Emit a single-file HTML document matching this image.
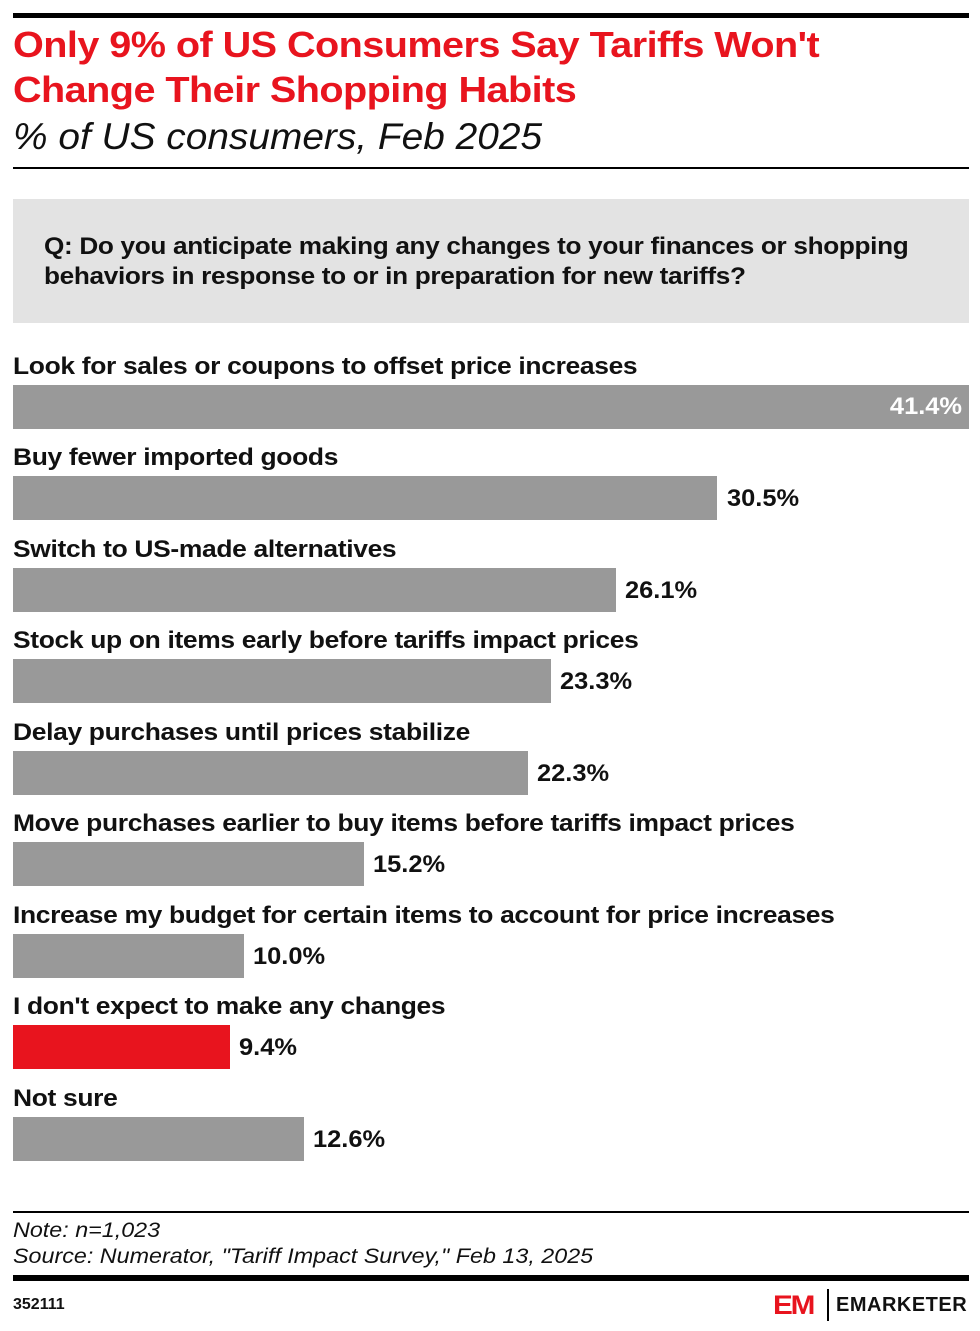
<!DOCTYPE html>
<html><head><style>
body{margin:0;width:980px;height:1331px;background:#fff;font-family:"Liberation Sans",sans-serif;position:relative;overflow:hidden;color:#111}
.a{position:absolute;white-space:nowrap;transform-origin:left top}
.t{left:13px;color:#e8141e;font-weight:bold;font-size:36px;letter-spacing:-0.5px;transform:scaleX(1.1)}
.lab{left:13px;font-size:24px;font-weight:bold;letter-spacing:-0.3px;transform:scaleX(1.1)}
.bar{position:absolute;left:13px;height:44px;background:#999}
.val{font-size:24px;font-weight:bold;transform:scaleX(1.06)}
</style></head><body>
<div class="a" style="left:13px;top:13px;width:956px;height:5px;background:#000"></div>
<div class="a t" style="top:24px">Only 9% of US Consumers Say Tariffs Won't</div>
<div class="a t" style="top:69px">Change Their Shopping Habits</div>
<div class="a" style="left:13px;top:116px;font-size:37px;font-style:italic;transform:scaleX(1.05)">% of US consumers, Feb 2025</div>
<div class="a" style="left:13px;top:167px;width:956px;height:2px;background:#000"></div>
<div class="a" style="left:13px;top:199px;width:956px;height:124px;background:#e3e3e3"></div>
<div class="a" style="left:44px;top:232px;font-size:24px;font-weight:bold;line-height:30px;letter-spacing:-0.3px;transform:scaleX(1.09)">Q: Do you anticipate making any changes to your finances or shopping<br>behaviors in response to or in preparation for new tariffs?</div>

<div class="a lab" style="top:353px">Look for sales or coupons to offset price increases</div>
<div class="bar" style="top:385px;width:956px"></div>
<div class="a val" style="top:393px;right:18px;color:#fff;transform-origin:right top">41.4%</div>

<div class="a lab" style="top:444px">Buy fewer imported goods</div>
<div class="bar" style="top:476px;width:704px"></div>
<div class="a val" style="top:485px;left:727px">30.5%</div>

<div class="a lab" style="top:536px">Switch to US-made alternatives</div>
<div class="bar" style="top:568px;width:603px"></div>
<div class="a val" style="top:577px;left:625px">26.1%</div>

<div class="a lab" style="top:627px">Stock up on items early before tariffs impact prices</div>
<div class="bar" style="top:659px;width:538px"></div>
<div class="a val" style="top:668px;left:560px">23.3%</div>

<div class="a lab" style="top:719px">Delay purchases until prices stabilize</div>
<div class="bar" style="top:751px;width:515px"></div>
<div class="a val" style="top:760px;left:537px">22.3%</div>

<div class="a lab" style="top:810px">Move purchases earlier to buy items before tariffs impact prices</div>
<div class="bar" style="top:842px;width:351px"></div>
<div class="a val" style="top:851px;left:373px">15.2%</div>

<div class="a lab" style="top:902px">Increase my budget for certain items to account for price increases</div>
<div class="bar" style="top:934px;width:231px"></div>
<div class="a val" style="top:943px;left:253px">10.0%</div>

<div class="a lab" style="top:993px">I don't expect to make any changes</div>
<div class="bar" style="top:1025px;width:217px;background:#e8141e"></div>
<div class="a val" style="top:1034px;left:239px">9.4%</div>

<div class="a lab" style="top:1085px">Not sure</div>
<div class="bar" style="top:1117px;width:291px"></div>
<div class="a val" style="top:1126px;left:313px">12.6%</div>

<div class="a" style="left:13px;top:1211px;width:956px;height:2px;background:#000"></div>
<div class="a" style="left:13px;top:1219px;font-size:21px;font-style:italic;transform:scaleX(1.11)">Note: n=1,023</div>
<div class="a" style="left:13px;top:1245px;font-size:21px;font-style:italic;transform:scaleX(1.11)">Source: Numerator, "Tariff Impact Survey," Feb 13, 2025</div>
<div class="a" style="left:13px;top:1275px;width:956px;height:6px;background:#000"></div>
<div class="a" style="left:13px;top:1296px;font-size:16px;font-weight:bold">352111</div>
<div class="a" style="left:773px;top:1290px;font-size:27px;font-weight:900;color:#e8141e;letter-spacing:-2px;transform:scaleX(1.1)">EM</div>
<div class="a" style="left:827px;top:1289px;width:2px;height:32px;background:#000"></div>
<div class="a" style="left:836px;top:1294px;font-size:20px;font-weight:bold;letter-spacing:0.5px">EMARKETER</div>
</body></html>
